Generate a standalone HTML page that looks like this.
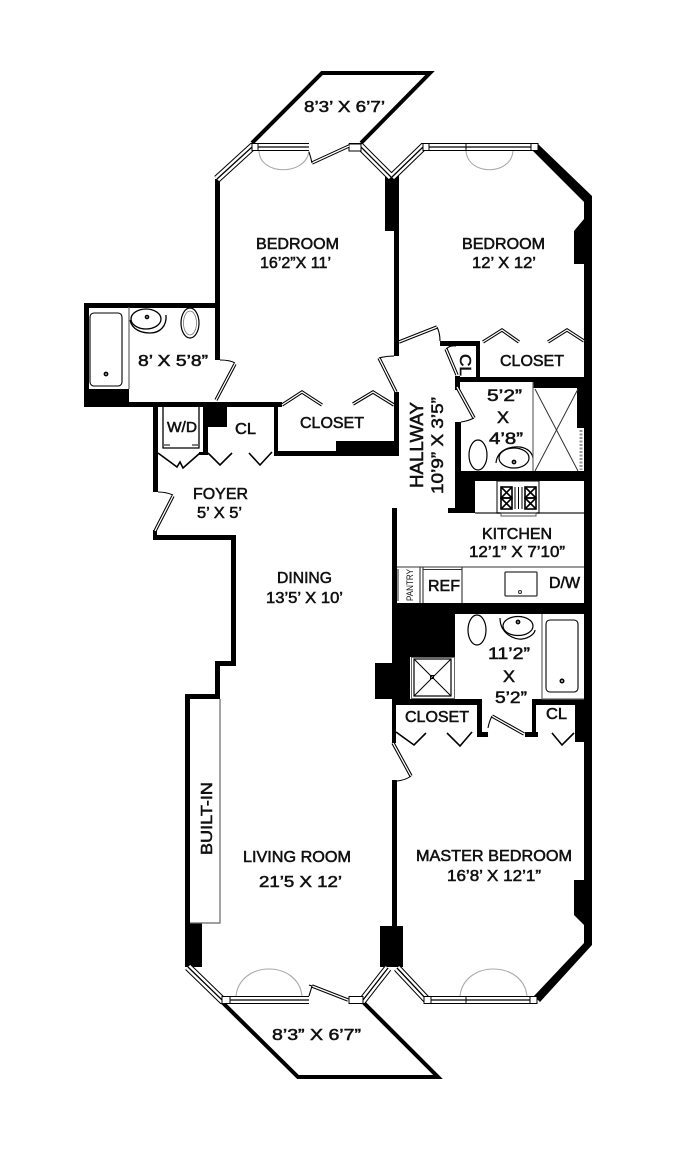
<!DOCTYPE html>
<html><head><meta charset="utf-8"><style>
html,body{margin:0;padding:0;background:#fff}
svg{display:block}
text{font-family:"Liberation Sans",Arial,sans-serif;font-weight:normal;fill:#111;font-size:16px;stroke:#111;stroke-width:.55px}
.t{fill:none;stroke:#000;stroke-width:1.6}
.g{fill:none;stroke:#666;stroke-width:1.2}
.a{fill:none;stroke:#aaa;stroke-width:1.1}
</style></head><body>
<svg width="682" height="1152" viewBox="0 0 682 1152" xmlns="http://www.w3.org/2000/svg">
<defs>
<path id="win" d="M217,179 L252,147 L309,147 M349,147 L361,147 L391,177 M392,177 L423,147 L538,147 M188,967 L222,1000 L309,1000 M349,1000 L363,1000 L388,968 M397,968 L427,1000 L537,1000"/>
</defs>
<rect width="682" height="1152" fill="#fff"/>

<!-- balconies -->
<g fill="none" stroke="#000" stroke-width="4">
<path d="M252,143 L322,73 L430,73 L361,143" stroke-linejoin="miter"/>
<path d="M222,1002 L298,1077 L438,1077 L363,1002"/>
</g>

<!-- black walls -->
<g fill="#000">
<rect x="215" y="179" width="5" height="181"/>
<rect x="84" y="303" width="136" height="5"/>
<rect x="84" y="303" width="5" height="104"/>
<rect x="84" y="389" width="45" height="18"/>
<rect x="84" y="402" width="198" height="5"/>
<rect x="153" y="402" width="5" height="90"/>
<rect x="203" y="402" width="5" height="53"/>
<rect x="203" y="402" width="24" height="25"/>
<rect x="199" y="452" width="9" height="3"/>
<rect x="274" y="402" width="4" height="54"/>
<rect x="274" y="451" width="125" height="5"/>
<rect x="336" y="441" width="63" height="15"/>
<rect x="394" y="392" width="5" height="64"/>
<rect x="385" y="176" width="14" height="55"/>
<rect x="394" y="176" width="5" height="180"/>
<path d="M538,144 L592,196 L592,945 L540,1002 L534,996 L584,943 L584,202 L533,151Z"/>
<path d="M574,231 L584,219 L584,264 L574,264Z"/>
<path d="M574,880 L584,880 L584,925 L574,915Z"/>
<rect x="440" y="341" width="40" height="5"/>
<rect x="476" y="341" width="4" height="41"/>
<rect x="455" y="377" width="129" height="5"/>
<rect x="533" y="377" width="51" height="11"/>
<rect x="577" y="382" width="8" height="46"/>
<rect x="455" y="376" width="5" height="14"/>
<rect x="455" y="422" width="6" height="91"/>
<rect x="455" y="471" width="129" height="10"/>
<rect x="455" y="471" width="20" height="42"/>
<rect x="448" y="508" width="10" height="5"/>
<rect x="392" y="508" width="5" height="105"/>
<rect x="392" y="603" width="200" height="11"/>
<rect x="392" y="603" width="63" height="54"/>
<rect x="392" y="657" width="18" height="48"/>
<rect x="375" y="663" width="20" height="36"/>
<rect x="392" y="699" width="90" height="6"/>
<rect x="392" y="699" width="4" height="44"/>
<rect x="477" y="699" width="5" height="38"/>
<rect x="477" y="732" width="11" height="5"/>
<rect x="525" y="732" width="13" height="5"/>
<rect x="532" y="699" width="4" height="38"/>
<rect x="532" y="699" width="52" height="6"/>
<rect x="575" y="699" width="9" height="43"/>
<rect x="392" y="780" width="5" height="146"/>
<rect x="380" y="926" width="23" height="41"/>
<rect x="153" y="535" width="83" height="5"/>
<rect x="153" y="530" width="4" height="10"/>
<rect x="231" y="535" width="5" height="131"/>
<rect x="215" y="661" width="21" height="5"/>
<rect x="215" y="661" width="5" height="38"/>
<rect x="185" y="694" width="35" height="5"/>
<rect x="185" y="694" width="5" height="273"/>
<rect x="185" y="923" width="17" height="44"/>
</g>

<!-- windows -->
<g>
<use href="#win" fill="none" stroke="#000" stroke-width="8"/>
<use href="#win" fill="none" stroke="#fff" stroke-width="6"/>
<use href="#win" fill="none" stroke="#000" stroke-width="1.3"/>
</g>
<g fill="#fff" stroke="#000" stroke-width="1">
<rect x="349" y="144" width="12" height="7"/>
<rect x="252" y="143.500" width="6" height="7"/>
<rect x="423" y="143.500" width="6" height="7"/>
<rect x="531" y="143.500" width="7" height="7"/>
<rect x="349" y="996.500" width="14" height="7"/>
<rect x="222" y="996.500" width="8" height="7"/>
<rect x="424" y="996.500" width="7" height="7"/>
<rect x="530" y="996.500" width="7" height="7"/>
</g>
<path d="M466,143V151M466,996V1004" stroke="#000" stroke-width="1"/>

<!-- window swing arcs -->
<g class="a">
<path d="M259,151 C260,176 306,176 309,151"/>
<path d="M466,151 C468,176 511,176 513,151"/>
<path d="M236,996 C240,960 298,960 302,996"/>
<path d="M460,996 C464,960 523,960 527,996"/>
</g>

<!-- doors -->
<g fill="none" stroke="#000" stroke-width="3.4">
<path d="M312,163 L349,146"/>
<path d="M399,342 L437,327"/>
<path d="M235,364 L216,400"/>
<path d="M379,358 L396,392"/>
<path d="M446,349 L457,375"/>
<path d="M457,387 L474,418"/>
<path d="M173,496 L155,531"/>
<path d="M492,716 L524,734"/>
<path d="M393,743 L411,776"/>
<path d="M312,986 L348,1000"/>
<path d="M282,405 L302,392 L322,405M353,404 L373,392 L394,405"/>
<path d="M483,342 L502,330 L519,342M548,342 L567,330 L584,341"/>
</g>
<g fill="none" stroke="#fff" stroke-width="1.3">
<path d="M312,163 L349,146"/>
<path d="M399,342 L437,327"/>
<path d="M235,364 L216,400"/>
<path d="M379,358 L396,392"/>
<path d="M446,349 L457,375"/>
<path d="M457,387 L474,418"/>
<path d="M173,496 L155,531"/>
<path d="M492,716 L524,734"/>
<path d="M393,743 L411,776"/>
<path d="M312,986 L348,1000"/>
<path d="M282,405 L302,392 L322,405M353,404 L373,392 L394,405"/>
<path d="M483,342 L502,330 L519,342M548,342 L567,330 L584,341"/>
</g>
<g fill="none" stroke="#000" stroke-width="1.1">
<path d="M309,152 Q311,158 312,163"/>
<path d="M437,327 Q440,333 440,341"/>
<path d="M220,360 Q230,360 235,363"/>
<path d="M394,356 Q386,356 379,358"/>
<path d="M446,349 Q450,345 456,346"/>
<path d="M474,418 Q468,421 461,422"/>
<path d="M158,492 Q166,492 173,495"/>
<path d="M488,728 Q489,722 492,716"/>
<path d="M411,776 Q406,780 397,781"/>
<path d="M309,985 L312,986 L309,996"/>
</g>
<g fill="none" stroke="#000" stroke-width="1.6">
<path d="M158,453 L177,467 L180,462 L183,468 L200,453"/>
<path d="M208,453 L220,465 L232,453"/>
<path d="M249,453 L260,465 L272,452"/>
<path d="M396,732 L414,745 L426,733"/>
<path d="M447,733 L460,746 L472,732"/>
<path d="M552,733 L562,745 L574,733"/>
</g>

<!-- fixtures: bath 1 -->
<g class="t">
<rect x="90" y="313" width="32" height="73" rx="4" stroke-width="1.1"/>
<circle cx="106" cy="374" r="1.600"/>
<ellipse cx="146" cy="319" rx="15" ry="10" stroke-width="1.300"/>
<path d="M130,320 C132,330 142,333 150,333 C160,333 167,326 166,315" stroke-width="1.300"/>
<ellipse cx="190" cy="323" rx="9" ry="15" stroke-width="1.200"/>
<ellipse cx="190" cy="323" rx="6.500" ry="12" stroke-width="0.800" stroke="#777"/>
<circle cx="147" cy="317" r="1.500"/>
<path d="M163,407 V448 H199 V407" stroke-width="1.300"/>
<path d="M164,445 H170 M192,445 H198" stroke-width="1.400" stroke="#555"/>
</g>
<path d="M129,307 V389" class="g"/>

<!-- bath 2 -->
<g class="t">
<ellipse cx="478" cy="455" rx="9" ry="15" stroke-width="1.200"/>
<ellipse cx="514" cy="458" rx="15" ry="10" stroke-width="1.200"/>
<path d="M496,463 C497,450 510,446 520,447 C527,448 532,452 533,458" stroke-width="1.200"/>
<circle cx="514" cy="462" r="1.600"/>
</g>
<path d="M533,382 V471" class="g"/>
<path d="M535,389 L578,471 M578,389 L535,471" stroke="#333" stroke-width="1" fill="none"/>
<path d="M581,430 V470" stroke="#999" stroke-width="3" stroke-dasharray="2 1.500"/>

<!-- kitchen fixtures -->
<g class="t" stroke-width="1.100">
<path d="M475,513 H584" stroke="#444"/>
<rect x="497" y="481" width="42" height="32" stroke-width="1"/>
<rect x="501" y="513" width="35" height="3" stroke="#555" stroke-width="1"/>
<rect x="501" y="487" width="11" height="11"/><path d="M501,487 L512,498 M512,487 L501,498"/>
<rect x="501" y="498" width="11" height="11"/><path d="M501,498 L512,509 M512,498 L501,509"/>
<rect x="525" y="487" width="11" height="11"/><path d="M525,487 L536,498 M536,487 L525,498"/>
<rect x="525" y="498" width="11" height="11"/><path d="M525,498 L536,509 M536,498 L525,509"/>
<path d="M515,487 V509 M518.500,487 V509 M522,487 V509" stroke-width="1"/>
</g>
<g fill="none" stroke="#333" stroke-width="1.100">
<path d="M397,567 H584"/>
<path d="M398,569 V601 M420,567 V603 M423,567 V603 M462,567 V603"/>
<path d="M423,569.500 H462"/>
<rect x="505" y="572" width="32" height="24" rx="1" stroke-width="1.300"/>
<circle cx="520" cy="592" r="1.500"/>
</g>

<!-- master bath fixtures -->
<g class="t">
<rect x="411.500" y="657.500" width="43" height="41" stroke="#666" stroke-width="1"/>
<rect x="414" y="659" width="37" height="37" stroke-width="1.200"/>
<path d="M414,659 L451,696 M451,659 L414,696" stroke-width="1"/>
<rect x="430.500" y="675.500" width="3" height="3" stroke-width="1"/>
<ellipse cx="477" cy="630" rx="9" ry="15" stroke-width="1.200"/>
<ellipse cx="518" cy="626" rx="15" ry="9.500" stroke-width="1.200"/>
<path d="M500,618 C500,634 515,640 522,639 C530,638 535,633 535,630" stroke-width="1.200"/>
<circle cx="518" cy="622" r="1.600"/>
<rect x="546" y="620" width="32" height="72" rx="4" stroke-width="1.100"/>
<circle cx="562" cy="681" r="1.700"/>
</g>
<path d="M542,614 V699 H584" class="g"/>

<!-- built-in -->
<path d="M220,699 V923 H190" class="g" stroke-width="1.500"/>

<!-- labels -->
<text x="304" y="112" textLength="81" lengthAdjust="spacingAndGlyphs">8’3’ X 6’7’</text>
<text x="256" y="249" textLength="83" lengthAdjust="spacingAndGlyphs">BEDROOM</text>
<text x="260" y="268" textLength="71" lengthAdjust="spacingAndGlyphs">16’2”X 11’</text>
<text x="462" y="249" textLength="83" lengthAdjust="spacingAndGlyphs">BEDROOM</text>
<text x="472" y="268" textLength="64" lengthAdjust="spacingAndGlyphs">12’ X 12’</text>
<text x="500" y="366" textLength="64" lengthAdjust="spacingAndGlyphs">CLOSET</text>
<text transform="translate(460,354) rotate(90)" x="0" y="0" textLength="22" lengthAdjust="spacingAndGlyphs">CL</text>
<text x="138" y="366" textLength="70" lengthAdjust="spacingAndGlyphs">8’ X 5’8”</text>
<text x="167" y="432" textLength="30" lengthAdjust="spacingAndGlyphs" style="font-size:15px">W/D</text>
<text x="235" y="434" textLength="21" lengthAdjust="spacingAndGlyphs">CL</text>
<text x="300" y="428" textLength="64" lengthAdjust="spacingAndGlyphs">CLOSET</text>
<text x="193" y="499" textLength="55" lengthAdjust="spacingAndGlyphs">FOYER</text>
<text x="197" y="518" textLength="45" lengthAdjust="spacingAndGlyphs">5’ X 5’</text>
<text x="277" y="583" textLength="55" lengthAdjust="spacingAndGlyphs">DINING</text>
<text x="266" y="603" textLength="77" lengthAdjust="spacingAndGlyphs">13’5’ X 10’</text>
<text transform="translate(423,488) rotate(-90)" textLength="86" lengthAdjust="spacingAndGlyphs" style="font-size:18px">HALLWAY</text>
<text transform="translate(443,494) rotate(-90)" textLength="97" lengthAdjust="spacingAndGlyphs" style="font-size:17px">10’9” X 3’5”</text>
<text x="487" y="401" textLength="35" lengthAdjust="spacingAndGlyphs" style="font-size:17px">5’2”</text>
<text x="497" y="423" textLength="12" lengthAdjust="spacingAndGlyphs" style="font-size:17px">X</text>
<text x="489" y="444" textLength="34" lengthAdjust="spacingAndGlyphs" style="font-size:17px">4’8”</text>
<text x="482" y="539" textLength="70" lengthAdjust="spacingAndGlyphs">KITCHEN</text>
<text x="469" y="557" textLength="96" lengthAdjust="spacingAndGlyphs">12’1” X 7’10”</text>
<text transform="translate(413,601) rotate(-90)" textLength="32" lengthAdjust="spacingAndGlyphs" style="font-size:9px;stroke-width:0">PANTRY</text>
<text x="428" y="591" textLength="32" lengthAdjust="spacingAndGlyphs">REF</text>
<text x="549" y="588" textLength="31" lengthAdjust="spacingAndGlyphs">D/W</text>
<text x="488" y="659" textLength="42" lengthAdjust="spacingAndGlyphs" style="font-size:17px">11’2”</text>
<text x="503" y="682" textLength="12" lengthAdjust="spacingAndGlyphs" style="font-size:17px">X</text>
<text x="495" y="703" textLength="32" lengthAdjust="spacingAndGlyphs" style="font-size:17px">5’2”</text>
<text x="405" y="722" textLength="64" lengthAdjust="spacingAndGlyphs">CLOSET</text>
<text x="546" y="719" textLength="21" lengthAdjust="spacingAndGlyphs">CL</text>
<text x="416" y="861" textLength="156" lengthAdjust="spacingAndGlyphs">MASTER BEDROOM</text>
<text x="447" y="881" textLength="94" lengthAdjust="spacingAndGlyphs">16’8’ X 12’1”</text>
<text x="243" y="862" textLength="108" lengthAdjust="spacingAndGlyphs">LIVING ROOM</text>
<text x="259" y="887" textLength="83" lengthAdjust="spacingAndGlyphs">21’5 X 12’</text>
<text transform="translate(212,855) rotate(-90)" textLength="73" lengthAdjust="spacingAndGlyphs">BUILT-IN</text>
<text x="272" y="1040" textLength="89" lengthAdjust="spacingAndGlyphs">8’3” X 6’7”</text>
</svg>
</body></html>
